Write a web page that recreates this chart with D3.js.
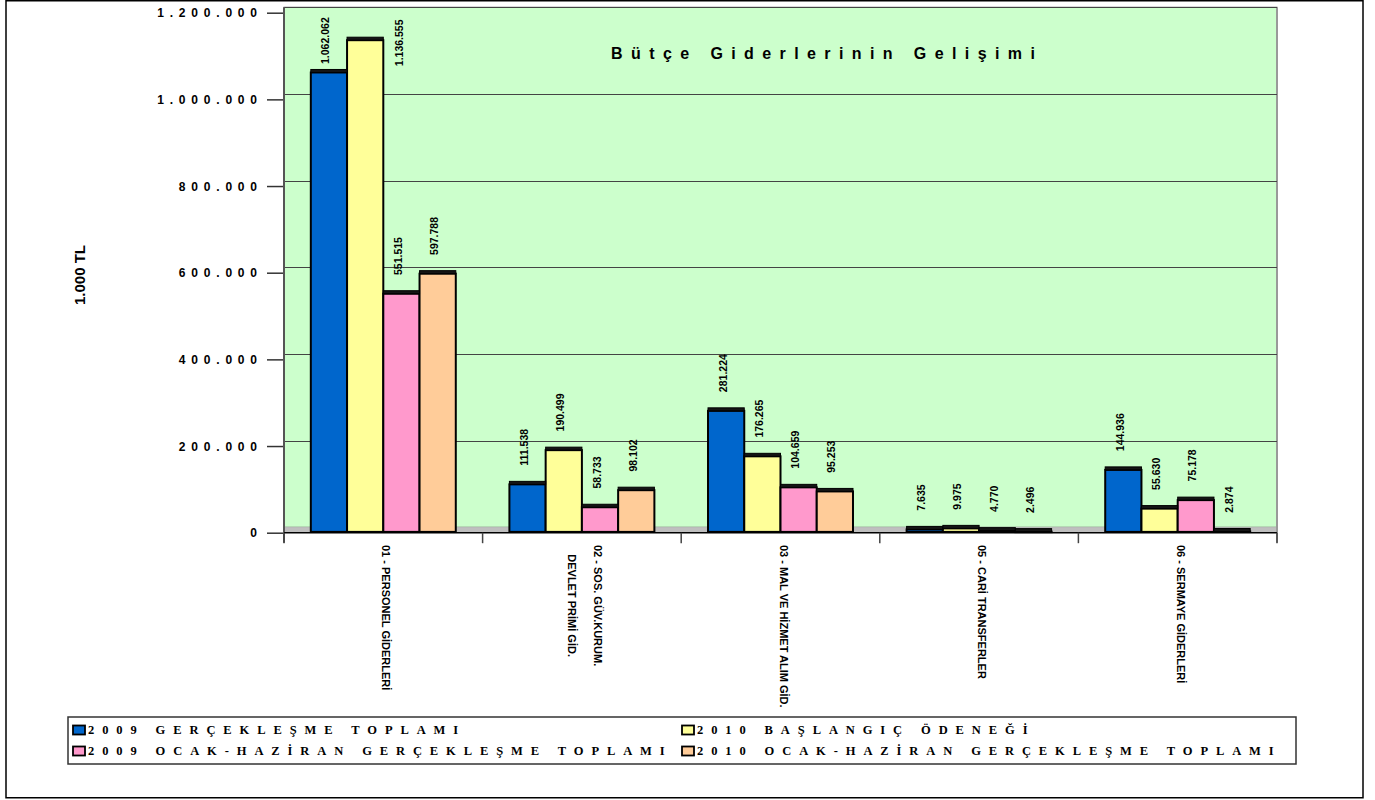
<!DOCTYPE html>
<html><head><meta charset="utf-8">
<script src="https://cdn.jsdelivr.net/npm/d3@7"></script>
<style>body{margin:0;background:#fff} svg{display:block}</style>
</head><body><svg id="c" width="1375" height="800"></svg>
<script>
// ---------- data ----------
const categories = ["01 - PERSONEL GİDERLERİ", "02 - SOS. GÜV.KURUM.\nDEVLET PRİMİ GİD.", "03 - MAL VE HİZMET ALIM GİD.", "05 - CARİ TRANSFERLER", "06 - SERMAYE GİDERLERİ"];
const seriesNames = ["2009 GERÇEKLEŞME TOPLAMI", "2010 BAŞLANGIÇ ÖDENEĞİ", "2009 OCAK-HAZİRAN GERÇEKLEŞME TOPLAMI", "2010 OCAK-HAZİRAN GERÇEKLEŞME TOPLAMI"];
const gerceklesme2009 = [1062062, 111538, 281224, 7635, 144936];
const baslangic2010 = [1136555, 190499, 176265, 9975, 55630];
const ocakHaziran2009 = [551515, 58733, 104659, 4770, 75178];
const ocakHaziran2010 = [597788, 98102, 95253, 2496, 2874];
const yTicks = [0, 200000, 400000, 600000, 800000, 1000000, 1200000];
const chartTitle = "Bütçe Giderlerinin Gelişimi";
const yTitle = "1.000 TL";
const seriesColors = ["#0066CC", "#FFFF99", "#FF99CC", "#FFCC99"];

// ---------- layout ----------
const L = {left: 284, right: 1277, zeroY: 532.7, topY: 12.7, depth: 5.5};
const seriesValues = [gerceklesme2009, baslangic2010, ocakHaziran2009, ocakHaziran2010];

const svg = d3.select("#c");
const loc = d3.formatLocale({decimal: ",", thousands: ".", grouping: [3], currency: ["", ""]});
const fmt = loc.format(",d");

const y = d3.scaleLinear().domain([0, 1200000]).range([L.zeroY, L.topY]);
const x = d3.scaleBand().domain(categories).range([L.left, L.right]).padding(0);
const bw = x.bandwidth();
const xs = d3.scaleBand().domain(d3.range(seriesNames.length)).range([0.135 * bw, 0.865 * bw]).padding(0);

// outer frame
svg.append("rect").attr("x", 6).attr("y", 0.75).attr("width", 1357).attr("height", 797)
  .attr("fill", "none").attr("stroke", "#000").attr("stroke-width", 1.5);

// back wall
svg.append("rect").attr("x", L.left).attr("y", y(1200000) - L.depth)
  .attr("width", L.right - L.left).attr("height", y(0) - y(1200000))
  .attr("fill", "#CCFFCC").attr("stroke", "#808080").attr("stroke-width", 1);
// floor
svg.append("rect").attr("x", L.left).attr("y", y(0) - L.depth)
  .attr("width", L.right - L.left).attr("height", L.depth)
  .attr("fill", "#BFBFBF").attr("stroke", "none");
// right side edge
svg.append("line").attr("x1", L.right).attr("x2", L.right).attr("y1", y(1200000) - L.depth).attr("y2", y(0) + 10)
  .attr("stroke", "#999").attr("stroke-width", 2);

// gridlines
svg.append("g").selectAll("line").data(yTicks.filter(t => t > 0)).join("line")
  .attr("x1", L.left).attr("x2", L.right)
  .attr("y1", d => Math.round(y(d) - L.depth) + 0.5).attr("y2", d => Math.round(y(d) - L.depth) + 0.5)
  .attr("stroke", "#444").attr("stroke-width", 1);

// y axis
const yAxis = d3.axisLeft(y).tickValues(yTicks).tickSize(17).tickFormat(d => fmt(d));
const ya = svg.append("g").attr("transform", `translate(${L.left},0)`).call(yAxis);
ya.select(".domain").remove();
ya.selectAll(".tick line").attr("stroke", "#333").attr("stroke-width", 1.5);
ya.selectAll(".tick text").attr("x", -21.2).attr("dy", "0.35em")
  .attr("font-family", "'Liberation Sans', Arial, sans-serif").attr("font-size", 12)
  .attr("font-weight", "bold").attr("fill", "#000").style("letter-spacing", "5.8px");
svg.append("line").attr("x1", L.left).attr("x2", L.left).attr("y1", y(1200000) - L.depth).attr("y2", y(0) + 10)
  .attr("stroke", "#555").attr("stroke-width", 2);

// x axis base line and ticks
svg.append("line").attr("x1", L.left).attr("x2", L.right).attr("y1", y(0)).attr("y2", y(0))
  .attr("stroke", "#000").attr("stroke-width", 1.5);
const xa = d3.axisBottom(x).tickSize(0).tickFormat("");
const xg = svg.append("g").attr("transform", `translate(0,${y(0)})`).call(xa);
xg.select(".domain").remove();
svg.append("g").selectAll("line").data(d3.range(categories.length + 1)).join("line")
  .attr("x1", i => L.left + i * bw).attr("x2", i => L.left + i * bw)
  .attr("y1", y(0)).attr("y2", y(0) + 10.5).attr("stroke", "#444").attr("stroke-width", 1.5);

// bars
const barData = [];
categories.forEach((c, ci) => seriesValues.forEach((arr, si) => barData.push({c, ci, si, v: arr[ci]})));
const bars = svg.append("g");
bars.selectAll("rect.front").data(barData).join("rect").attr("class", "front")
  .attr("x", d => x(d.c) + xs(d.si)).attr("width", xs.bandwidth())
  .attr("y", d => y(d.v)).attr("height", d => Math.max(0.5, y(0) - 0.8 - y(d.v)))
  .attr("fill", d => seriesColors[d.si]).attr("stroke", "#000").attr("stroke-width", 2);
bars.selectAll("rect.top").data(barData).join("rect").attr("class", "top")
  .attr("x", d => x(d.c) + xs(d.si)).attr("width", xs.bandwidth())
  .attr("y", d => y(d.v) - 3).attr("height", 3)
  .attr("fill", "#151515").attr("stroke", "#000").attr("stroke-width", 1);

// value labels
const gap = 18.7, gapTight = 8.5, topLimit = y(1200000) + 2;
svg.append("g").selectAll("text").data(barData).join("text")
  .text(d => fmt(d.v))
  .attr("font-family", "'Liberation Sans', Arial, sans-serif").attr("font-size", 10.5)
  .attr("font-weight", "bold").attr("fill", "#000")
  .each(function(d) {
    const len = this.getComputedTextLength();
    const cx = x(d.c) + xs(d.si) + xs.bandwidth() / 2;
    const top = y(d.v);
    let bx = cx + 0.5, by = top - gap;
    if (by - len < topLimit) {
      if (top - gapTight - len >= topLimit) by = top - gapTight;
      else { bx = cx + xs.bandwidth() / 2 + 20; by = top + 26; }
    }
    d3.select(this).attr("transform", `translate(${bx},${by}) rotate(-90)`);
  });

// category labels
const catG = svg.append("g");
categories.forEach(c => {
  const lines = c.split("\n");
  const cx = x(c) + bw / 2 + 3;
  const n = lines.length;
  const texts = lines.map((ln, i) => catG.append("text").text(ln)
      .attr("font-family", "'Liberation Sans', Arial, sans-serif").attr("font-size", 11)
      .attr("font-weight", "bold").attr("fill", "#000")
      .datum({off: (n === 1) ? 0 : ((n - 1) / 2 - i) * 26}));
  const lens = texts.map(t => t.node().getComputedTextLength());
  const maxLen = d3.max(lens);
  texts.forEach((t, i) => {
    const gx = cx + t.datum().off - 4;
    const gy = 545 + (maxLen - lens[i]) / 2;
    t.attr("transform", `translate(${gx},${gy}) rotate(90)`);
  });
});

// title
svg.append("text").text(chartTitle).attr("x", 823 + 4.2).attr("y", 53).attr("dy", "0.35em")
  .attr("text-anchor", "middle").attr("font-family", "'Liberation Sans', Arial, sans-serif")
  .attr("font-size", 16).attr("font-weight", "bold").style("letter-spacing", "8.4px");

// y title
svg.append("text").text(yTitle).attr("transform", "translate(80,275) rotate(-90)").attr("dy", "0.35em")
  .attr("text-anchor", "middle").attr("font-family", "'Liberation Sans', Arial, sans-serif")
  .attr("font-size", 15).attr("font-weight", "bold");

// legend
svg.append("rect").attr("x", 68).attr("y", 717).attr("width", 1228).attr("height", 47)
  .attr("fill", "#fff").attr("stroke", "#333").attr("stroke-width", 1.5);
const legPos = [[73, 730], [682, 730], [73, 751], [682, 751]];
const lg = svg.append("g").selectAll("g").data(seriesNames).join("g")
  .attr("transform", (d, i) => `translate(${legPos[i][0]},${legPos[i][1]})`);
lg.append("rect").attr("x", 0).attr("y", -4.5).attr("width", 12).attr("height", 9)
  .attr("fill", (d, i) => seriesColors[i]).attr("stroke", "#000").attr("stroke-width", 1.8);
lg.append("text").text(d => d).attr("x", 15).attr("dy", "0.35em")
  .attr("font-family", "'Liberation Serif', 'Times New Roman', serif").attr("font-size", 12.5)
  .attr("font-weight", "bold").style("letter-spacing", "7.9px");
</script>
</body></html>
